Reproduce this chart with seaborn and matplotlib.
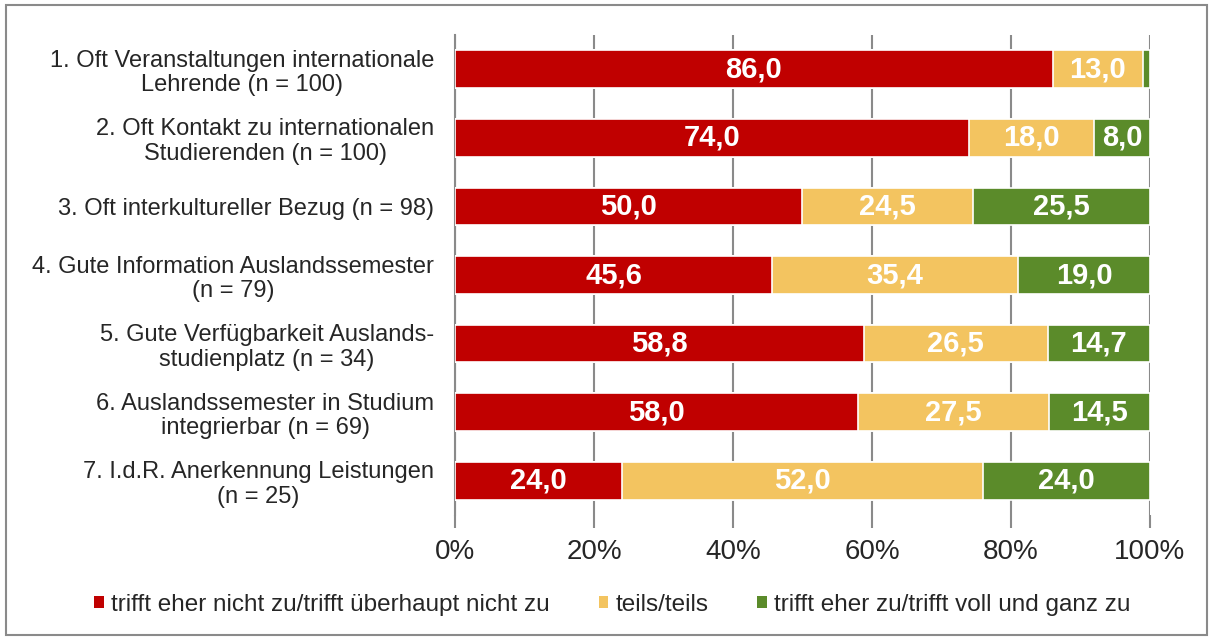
import matplotlib
matplotlib.use("Agg")
import matplotlib.pyplot as plt
import seaborn as sns
import pandas as pd
import numpy as np
from matplotlib.patches import Patch, Rectangle

categories = [
    "1. Oft Veranstaltungen internationale\nLehrende (n = 100)",
    "2. Oft Kontakt zu internationalen\nStudierenden (n = 100)",
    "3. Oft interkultureller Bezug (n = 98)",
    "4. Gute Information Auslandssemester\n(n = 79)",
    "5. Gute Verfügbarkeit Auslands-\nstudienplatz (n = 34)",
    "6. Auslandssemester in Studium\nintegrierbar (n = 69)",
    "7. I.d.R. Anerkennung Leistungen\n(n = 25)",
]
series_names = [
    "trifft eher nicht zu/trifft überhaupt nicht zu",
    "teils/teils",
    "trifft eher zu/trifft voll und ganz zu",
]
nicht_zu = [86.0, 74.0, 50.0, 45.6, 58.8, 58.0, 24.0]
teils = [13.0, 18.0, 24.5, 35.4, 26.5, 27.5, 52.0]
zu = [1.0, 8.0, 25.5, 19.0, 14.7, 14.5, 24.0]
tick_values = [0, 20, 40, 60, 80, 100]
tick_labels = ["0%", "20%", "40%", "60%", "80%", "100%"]

colors = ["#C00000", "#F3C460", "#5B8B2A"]

sns.set_theme(style="white")
plt.rcParams["font.family"] = ["Liberation Sans", "DejaVu Sans"]

df = pd.DataFrame({"cat": categories, "a": nicht_zu, "b": teils, "c": zu})
df["cum_a"] = df["a"]
df["cum_b"] = df["a"] + df["b"]
df["cum_c"] = df["a"] + df["b"] + df["c"]

fig = plt.figure(figsize=(12.13, 6.37), dpi=100)
ax = fig.add_axes([455 / 1213, 1 - 515 / 637, 695 / 1213, 480 / 637])

bw = 0.55
for col, colr in zip(["cum_c", "cum_b", "cum_a"], colors[::-1]):
    sns.barplot(data=df, x=col, y="cat", orient="h", color=colr, width=bw,
                edgecolor="white", linewidth=1.2, ax=ax, zorder=3,
                saturation=1)

# labels
for i in range(len(categories)):
    segs = [(0, nicht_zu[i]), (nicht_zu[i], teils[i]), (nicht_zu[i] + teils[i], zu[i])]
    for left, w in segs:
        if w >= 3:
            ax.text(left + w / 2, i, f"{w:.1f}".replace(".", ","), ha="center",
                    va="center", color="white", fontsize=21, fontweight="bold",
                    zorder=5)

ax.set_xlim(0, 100)
ax.set_ylim(len(categories) - 0.5, -0.5)
ax.set_xticks(tick_values)
ax.set_xticklabels(tick_labels, fontsize=20)
ax.set_xlabel("")
ax.set_ylabel("")
ax.tick_params(axis="x", length=9.5, width=1.5, color="#8a8a8a", pad=8,
               direction="out", bottom=True)
ax.tick_params(axis="y", length=0, pad=15, labelsize=17)
for lbl in ax.get_yticklabels():
    lbl.set_multialignment("center")
    lbl.set_linespacing(1.15)
ax.xaxis.grid(True, color="#8a8a8a", linewidth=1.5, zorder=0)
ax.set_axisbelow(True)
for s in ["top", "right", "bottom"]:
    ax.spines[s].set_visible(False)
ax.spines["left"].set_color("#8a8a8a")
ax.spines["left"].set_linewidth(1.5)

handles = [Patch(facecolor=c, edgecolor="none") for c in colors]
fig.legend(handles, series_names, loc="center", bbox_to_anchor=(0.505, 1 - 605 / 637),
           ncol=3, frameon=False, fontsize=17.5, handlelength=0.4, handleheight=0.4,
           handletextpad=0.3, columnspacing=2.0)

fig.patches.append(Rectangle((6 / 1213, 2 / 637), 1201 / 1213, 630 / 637,
                             transform=fig.transFigure, fill=False,
                             edgecolor="#8a8a8a", linewidth=1.5))

fig.savefig("out.png", dpi=100, facecolor="white")
